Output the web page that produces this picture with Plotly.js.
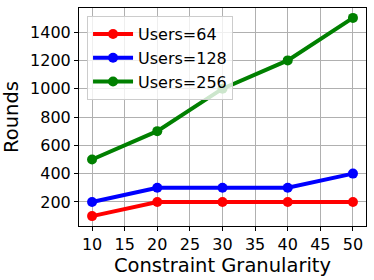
<!DOCTYPE html>
<html><head><meta charset="utf-8">
<script src="https://cdn.plot.ly/plotly-3.0.1.min.js"></script>
<style>html,body{margin:0;padding:0;background:#fff}#c{width:374px;height:280px}</style>
</head><body><div id="c"></div>
<script>
const granularity = [10, 20, 30, 40, 50];
const users64 = [100, 200, 200, 200, 200];
const users128 = [200, 300, 300, 300, 400];
const users256 = [500, 700, 1000, 1200, 1500];
const seriesNames = ['Users=64', 'Users=128', 'Users=256'];
const colors = ['#ff0000', '#0000ff', '#008000'];
const values = [users64, users128, users256];

const traces = values.map((v, i) => ({
  x: granularity, y: v, name: seriesNames[i], type: 'scatter', mode: 'lines+markers',
  line: {color: colors[i], width: 4}, marker: {color: colors[i], size: 10}
}));

const layout = {
  width: 374, height: 280,
  margin: {l: 79, r: 8, t: 8, b: 54},
  paper_bgcolor: '#fff', plot_bgcolor: '#fff',
  font: {family: 'DejaVu Sans', size: 16, color: '#000'},
  showlegend: true,
  legend: {x: 0.028, y: 0.963, xanchor: 'left', yanchor: 'top',
    bgcolor: 'rgba(255,255,255,0.8)', bordercolor: '#cccccc', borderwidth: 1,
    font: {family: 'DejaVu Sans', size: 16, color: '#000'}, tracegroupgap: 0, itemwidth: 40},
  xaxis: {range: [8, 52], tickvals: [10,15,20,25,30,35,40,45,50], showgrid: true, gridcolor: '#b0b0b0', gridwidth: 1,
    zeroline: false, showline: true, linecolor: '#000', linewidth: 1, mirror: true,
    ticks: 'outside', ticklen: 4, tickcolor: '#000', tickfont: {family: 'DejaVu Sans', size: 16},
    title: {text: 'Constraint Granularity', font: {family: 'DejaVu Sans', size: 19.5}, standoff: 4}},
  yaxis: {range: [30, 1570], tickvals: [200,400,600,800,1000,1200,1400], showgrid: true, gridcolor: '#b0b0b0', gridwidth: 1,
    zeroline: false, showline: true, linecolor: '#000', linewidth: 1, mirror: true,
    ticks: 'outside', ticklen: 4, tickcolor: '#000', tickfont: {family: 'DejaVu Sans', size: 16},
    title: {text: 'Rounds', font: {family: 'DejaVu Sans', size: 19.5}, standoff: 8}}
};
Plotly.newPlot('c', traces, layout, {staticPlot: true, displayModeBar: false});
</script></body></html>
